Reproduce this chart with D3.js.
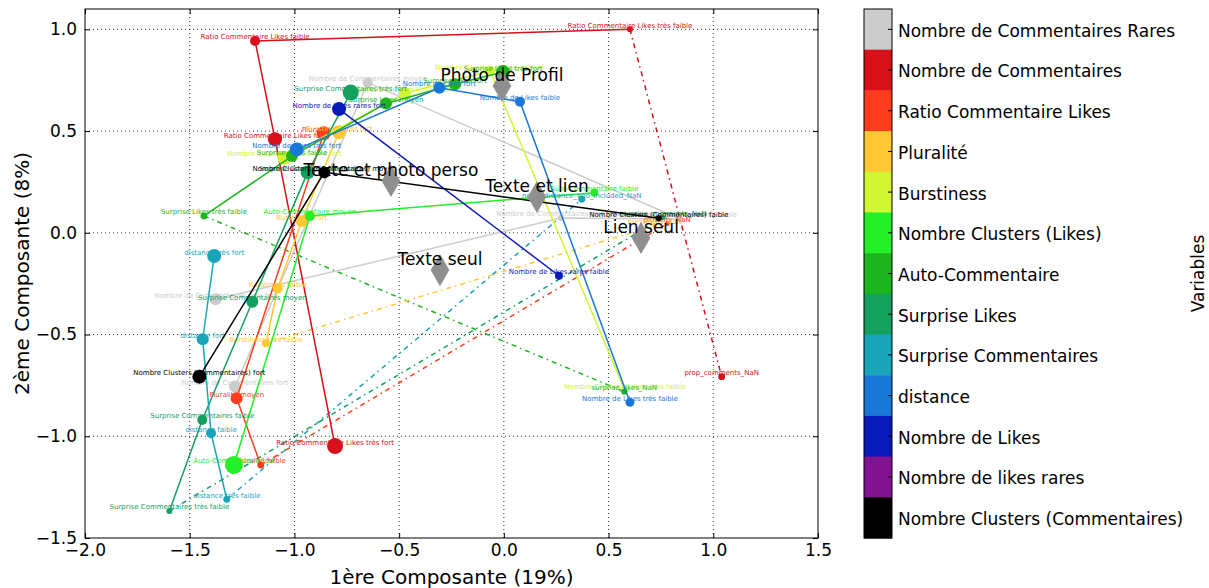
<!DOCTYPE html>
<html><head><meta charset="utf-8">
<script src="https://cdn.jsdelivr.net/npm/d3@7"></script>
<style>body{margin:0;background:#fff}svg{display:block;font-family:"DejaVu Sans",sans-serif}</style>
</head><body><svg id="c" width="1209" height="588"></svg>
<script>
// ---------- data ----------
const variables = ["Nombre de Commentaires","Ratio Commentaire Likes","Pluralité","Burstiness","Nombre Clusters (Likes)","Auto-Commentaire","Surprise Likes","Surprise Commentaires","distance","Nombre de Likes","Nombre de Likes rares","Nombre Clusters (Commentaires)"];
const variableColors = ["#cccccc","#d7101a","#ff3c1e","#ffc832","#d2f532","#23f028","#1eb41e","#14a05f","#19a5b9","#1978d7","#0a19b9","#000000"];

const pointVar = [0,0,0,0,0, 1,1,1,1, 2,2,2, 3,3,3,3, 4,4,4,4, 5,5,5, 6,6,6,6,6, 7,7,7,7,7, 8,8,8,8, 9,9,9,9, 10,10, 11,11,11];
const pointLabels = [
 "Nombre de Commentaires très fort","Nombre de Commentaires très faible","Nombre de Commentaires faible","Nombre de Commentaires moyen","Nombre de Commentaires fort",
 "Ratio Commentaire Likes très faible","Ratio Commentaire Likes faible","Ratio Commentaire Likes fort","Ratio Commentaire Likes très fort",
 "Pluralité fort","Pluralité moyen","Pluralité faible",
 "Burstiness très fort","Burstiness fort","Burstiness faible","Burstiness très faible",
 "Nombre Clusters (Likes) très fort","Nombre Clusters (Likes) fort","Nombre Clusters (Likes) moyen","Nombre Clusters (Likes) très faible",
 "Auto-Commentaire faible","Auto-Commentaire moyen","Auto-Commentaire fort",
 "Surprise Likes très faible","Surprise Likes faible","Surprise Likes moyen","Surprise Likes fort","Surprise Likes très fort",
 "Surprise Commentaires très fort","Surprise Commentaires fort","Surprise Commentaires moyen","Surprise Commentaires faible","Surprise Commentaires très faible",
 "distance très fort","distance fort","distance faible","distance très faible",
 "Nombre de Likes très fort","Nombre de Likes fort","Nombre de Likes faible","Nombre de Likes très faible",
 "Nombre de Likes rares fort","Nombre de Likes rares faible",
 "Nombre Clusters (Commentaires) fort","Nombre Clusters (Commentaires) moyen","Nombre Clusters (Commentaires) faible"];
const pointX = [-1.376,0.273,0.841,-0.650,-1.284, 0.602,-1.188,-1.093,-0.806, -0.860,-1.276,-1.161, -0.787,-0.965,-1.080,-1.136, -1.048,-0.472,-0.066,0.578, 0.432,-0.926,-1.289, -1.432,-1.012,-0.563,-0.233,-0.004, -0.731,-0.937,-1.201,-1.440,-1.597, -1.383,-1.438,-1.398,-1.323, -0.989,-0.308,0.077,0.602, -0.787,0.263, -1.454,-0.857,0.740];
const pointY = [-0.327,0.073,0.068,0.738,-0.756, 1.000,0.943,0.460,-1.048, 0.489,-0.813,-1.141, 0.494,0.058,-0.273,-0.543, 0.369,0.686,0.795,-0.775, 0.197,0.083,-1.141, 0.083,0.377,0.636,0.730,0.790, 0.689,0.297,-0.339,-0.920,-1.367, -0.114,-0.523,-0.985,-1.310, 0.410,0.713,0.644,-0.833, 0.608,-0.211, -0.707,0.297,0.072];
const pointWeight = [36,9,9,25,36, 9,25,49,64, 49,36,12, 49,36,25,16, 49,36,25,12, 16,25,81, 12,36,36,36,49, 64,49,36,25,9, 49,36,25,12, 49,36,25,20, 49,16, 49,36,9];

const nanVar = [1,6,8,3,2,7];
const nanLabels = ["prop_comments_NaN","surprise_likes_NaN","norm_distance_ego_included_NaN","burstiness_NaN","plurality_NaN","surprise_comments_NaN"];
const nanFrom = ["Ratio Commentaire Likes très faible","Surprise Likes très faible","distance très faible","Burstiness très faible","Pluralité faible","Surprise Commentaires très faible"];
const nanX = [1.04,0.575,0.372,0.72,0.78,0.76];
const nanY = [-0.707,-0.781,0.165,0.035,0.045,0.075];
const nanWeight = [12,9,12,6,6,6];

const suppLabels = ["Photo de Profil","Texte et photo perso","Texte et lien","Lien seul","Texte seul"];
const suppX = [-0.009,-0.539,0.158,0.655,-0.305];
const suppY = [0.722,0.255,0.176,-0.025,-0.183];

const xTicks = [-2.0,-1.5,-1.0,-0.5,0.0,0.5,1.0,1.5];
const yTicks = [-1.5,-1.0,-0.5,0.0,0.5,1.0];

const legendLabels = ["Nombre de Commentaires Rares","Nombre de Commentaires","Ratio Commentaire Likes","Pluralité","Burstiness","Nombre Clusters (Likes)","Auto-Commentaire","Surprise Likes","Surprise Commentaires","distance","Nombre de Likes","Nombre de likes rares","Nombre Clusters (Commentaires)"];
const legendColors = ["#cccccc","#d7101a","#ff3c1e","#ffc832","#d2f532","#23f028","#1eb41e","#14a05f","#19a5b9","#1978d7","#0a19b9","#821491","#000000"];

// ---------- drawing ----------
const svg = d3.select("#c");
const L=85,R=818,T=9,B=538;
const x = d3.scaleLinear().domain([-2,1.5]).range([L,R]);
const y = d3.scaleLinear().domain([-1.5,1.1]).range([B,T]);
const rad = d3.scaleSqrt().domain([0,100]).range([0,10]);
const fmt = d3.format(".1f");

svg.append("defs").append("clipPath").attr("id","clip").append("rect").attr("x",L).attr("y",T).attr("width",R-L).attr("height",B-T);

// grid
const grid = svg.append("g").attr("stroke","#000").attr("stroke-width",0.8).attr("stroke-dasharray","1,3");
grid.selectAll(".gx").data(xTicks.filter(d=>d>-2&&d<1.5)).join("line").attr("x1",d=>x(d)).attr("x2",d=>x(d)).attr("y1",T).attr("y2",B);
grid.selectAll(".gy").data(yTicks.filter(d=>d>-1.5)).join("line").attr("y1",d=>y(d)).attr("y2",d=>y(d)).attr("x1",L).attr("x2",R);

// axes
function styleAxis(g){g.select(".domain").remove();g.selectAll("text").attr("font-size","17px").attr("fill","#000").attr("font-family","DejaVu Sans");g.selectAll("line").attr("stroke","#000");}
svg.append("g").attr("transform",`translate(0,${B})`).call(d3.axisBottom(x).tickValues(xTicks).tickFormat(fmt).tickSize(-5).tickPadding(6)).call(styleAxis);
svg.append("g").attr("transform",`translate(${L},0)`).call(d3.axisLeft(y).tickValues(yTicks).tickFormat(fmt).tickSize(-5).tickPadding(8)).call(styleAxis);
svg.append("g").attr("transform",`translate(0,${T})`).call(d3.axisTop(x).tickValues(xTicks).tickFormat("").tickSize(-5)).call(styleAxis);
svg.append("g").attr("transform",`translate(${R},0)`).call(d3.axisRight(y).tickValues(yTicks).tickFormat("").tickSize(-5)).call(styleAxis);

const plot = svg.append("g").attr("clip-path","url(#clip)");
const line = d3.line().x(d=>x(d[0])).y(d=>y(d[1]));
const idxOf = lab => pointLabels.indexOf(lab);

// dash-dot NaN links
nanVar.forEach((v,i)=>{
  const j = idxOf(nanFrom[i]);
  plot.append("path").attr("d",line([[pointX[j],pointY[j]],[nanX[i],nanY[i]]]))
    .attr("fill","none").attr("stroke",variableColors[v]).attr("stroke-width",1.5).attr("stroke-dasharray","5,4,1.5,4");
});

// per variable: line, dots, labels
variables.forEach((name,v)=>{
  const ids = pointVar.map((pv,i)=>pv===v?i:-1).filter(i=>i>=0);
  const col = variableColors[v];
  const g = plot.append("g");
  g.append("path").attr("d",line(ids.map(i=>[pointX[i],pointY[i]]))).attr("fill","none").attr("stroke",col).attr("stroke-width",1.5);
  const nids = nanVar.map((nv,i)=>nv===v?i:-1).filter(i=>i>=0);
  g.selectAll("circle.p").data(ids).join("circle").attr("cx",i=>x(pointX[i])).attr("cy",i=>y(pointY[i])).attr("r",i=>rad(pointWeight[i])).attr("fill",col);
  g.selectAll("circle.n").data(nids).join("circle").attr("cx",i=>x(nanX[i])).attr("cy",i=>y(nanY[i])).attr("r",i=>rad(nanWeight[i])).attr("fill",col);
  g.selectAll("text.p").data(ids).join("text").attr("x",i=>x(pointX[i])).attr("y",i=>y(pointY[i])-1.5)
    .attr("text-anchor","middle").attr("font-size","7px").attr("fill",col).text(i=>pointLabels[i]);
  nids.forEach(i=>{
    g.append("text").attr("x",x(nanX[i])).attr("y",y(nanY[i])-1.5).attr("text-anchor","middle").attr("font-size","7px").attr("fill",col).text(nanLabels[i]);
  });
});

// supplementary diamonds
const sym = d3.symbol(d3.symbolDiamond,300);
suppLabels.forEach((lab,i)=>{
  plot.append("path").attr("d",sym()).attr("transform",`translate(${x(suppX[i])},${y(suppY[i])})`).attr("fill","#8f8f8f");
});
suppLabels.forEach((lab,i)=>{
  plot.append("text").attr("x",x(suppX[i])).attr("y",y(suppY[i])-5).attr("text-anchor","middle").attr("font-size","17px").attr("fill","#000").text(lab);
});

// frame
svg.append("rect").attr("x",L).attr("y",T).attr("width",R-L).attr("height",B-T).attr("fill","none").attr("stroke","#000").attr("stroke-width",1);

// axis titles
svg.append("text").attr("x",(L+R)/2).attr("y",584).attr("text-anchor","middle").attr("font-size","20px").text("1ère Composante (19%)");
svg.append("text").attr("transform",`translate(29,${(T+B)/2}) rotate(-90)`).attr("text-anchor","middle").attr("font-size","20px").text("2ème Composante (8%)");

// colorbar
const cbX=864, cbW=28;
const cb = d3.scaleBand().domain(legendLabels).range([T,B]).padding(0);
const cbg = svg.append("g");
cbg.selectAll("rect").data(legendLabels).join("rect").attr("x",cbX).attr("y",d=>cb(d)).attr("width",cbW).attr("height",cb.bandwidth()+0.5).attr("fill",(d,i)=>legendColors[i]);
cbg.append("rect").attr("x",cbX).attr("y",T).attr("width",cbW).attr("height",B-T).attr("fill","none").attr("stroke","#000").attr("stroke-width",1);
cbg.selectAll("line").data(legendLabels).join("line").attr("x1",cbX+cbW-4).attr("x2",cbX+cbW).attr("y1",d=>cb(d)+cb.bandwidth()/2).attr("y2",d=>cb(d)+cb.bandwidth()/2).attr("stroke","#000");
cbg.selectAll("text").data(legendLabels).join("text").attr("x",cbX+cbW+6).attr("y",d=>cb(d)+cb.bandwidth()/2+1.5).attr("dy","0.35em").attr("font-size","17px").text(d=>d);
svg.append("text").attr("transform",`translate(1204,${(T+B)/2}) rotate(-90)`).attr("text-anchor","middle").attr("font-size","17px").text("Variables");
</script></body></html>
